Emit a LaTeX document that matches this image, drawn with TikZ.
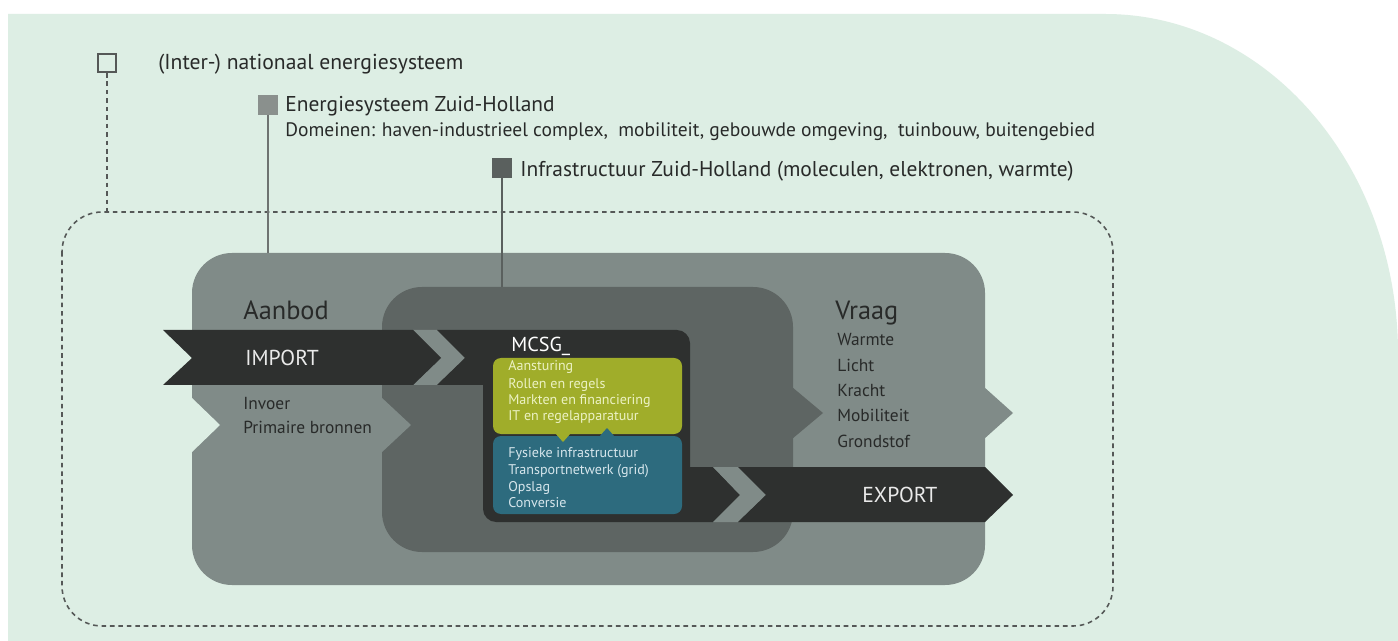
\documentclass[tikz,border=0pt]{standalone}
\usepackage{fontspec}
\setmainfont{PT Sans}

\definecolor{bgmint}{RGB}{221,238,228}
\definecolor{outergray}{RGB}{128,139,136}
\definecolor{innergray}{RGB}{94,101,99}
\definecolor{bandblack}{RGB}{46,48,47}
\definecolor{sturgreen}{RGB}{160,173,42}
\definecolor{fysblue}{RGB}{45,107,126}
\definecolor{txtdark}{RGB}{40,42,41}
\definecolor{sqmid}{RGB}{138,144,141}
\definecolor{sqdark}{RGB}{90,96,94}
\definecolor{dashgray}{RGB}{85,88,87}
\definecolor{greentxt}{RGB}{236,242,196}
\definecolor{bluetxt}{RGB}{214,230,236}

\begin{document}
\begin{tikzpicture}[x=0.02cm, y=-0.02cm,
    txt/.style={anchor=base west, inner sep=0pt, text=txtdark},
    head/.style={txt, font=\fontsize{15}{18}\selectfont},
    item/.style={txt, font=\fontsize{9.9}{12}\selectfont},
    band/.style={txt, text=white!90!bandblack, font=\fontsize{12.3}{14}\selectfont},
    sturitem/.style={txt, text=greentxt, font=\fontsize{8}{9}\selectfont},
    fysitem/.style={txt, text=bluetxt, font=\fontsize{8}{9}\selectfont},
    sqopen/.style={draw=dashgray, line width=1.2pt, fill=none,
        minimum size=0.36cm, inner sep=0pt},
    sqfill/.style={draw=none, minimum size=0.4cm, inner sep=0pt},
    dashline/.style={draw=dashgray, line width=0.9pt,
        dash pattern=on 2.6pt off 2.2pt},
    stem/.style={line width=1.1pt}
]
    % background
    \fill[white] (0,0) rectangle (1398,641);
    \useasboundingbox (0,0) rectangle (1398,641);
    \fill[bgmint] (8,14) -- (1105,14) .. controls (1267,14) and (1398,166)
        .. (1398,354) -- (1398,641) -- (8,641) -- cycle;

    % system border
    \draw[dashline, rounded corners=0.8cm] (62,212) rectangle (1113,626);

    % energiesysteem Zuid-Holland
    \fill[outergray, rounded corners=0.8cm] (192,253) rectangle (985,585);
    \fill[outergray] (984,387) -- (1013,413) -- (984,439) -- cycle;
    \fill[bgmint] (191,397) -- (220,425) -- (191,453) -- cycle;

    % infrastructuur
    \fill[innergray, rounded corners=0.8cm] (382,287) rectangle (793,552);
    \fill[innergray] (792,387) -- (823,413) -- (792,439) -- cycle;
    \fill[outergray] (381,397) -- (411,425) -- (381,453) -- cycle;

    % import band
    \fill[outergray] (413,330) -- (437,330) -- (465,358) -- (437,385)
        -- (413,385) -- (441,358) -- cycle;
    \fill[bandblack] (163,330) -- (413,330) -- (441,358) -- (413,385)
        -- (163,385) -- (192,358) -- cycle;

    % MCSG block
    \fill[bandblack] (437,330) -- (677,330) .. controls (684,330) and (690,336)
        .. (690,343) -- (690,467) -- (713,467) -- (740,495) -- (713,522)
        -- (496,522) .. controls (489,522) and (483,516) .. (483,509)
        -- (483,385) -- (437,385) -- (465,358) -- cycle;

    % export band
    \fill[outergray] (713,467) -- (738,467) -- (766,495) -- (738,522)
        -- (713,522) -- (740,495) -- cycle;
    \fill[bandblack] (738,467) -- (985,467) -- (1013,495) -- (985,522)
        -- (738,522) -- (766,495) -- cycle;

    % sturing en fysiek
    \fill[sturgreen, rounded corners=0.16cm] (493,358) rectangle (682,434);
    \fill[fysblue, rounded corners=0.16cm] (493,436) rectangle (682,514);
    \fill[sturgreen] (555,433) -- (563,442) -- (571,433) -- cycle;
    \fill[fysblue] (599,437) -- (607,428) -- (615,437) -- cycle;

    % legend
    \node[sqopen] (natsq) at (107,63) {};
    \node[sqfill, fill=sqmid] (zhsq) at (268,105) {};
    \node[sqfill, fill=sqdark] (infrasq) at (502,168) {};
    \coordinate (dashtop) at (107,212);
    \coordinate (zhtop) at (268,253);
    \coordinate (infratop) at (502,287);
    \draw[dashline] (natsq.south) -- (dashtop);
    \draw[stem, draw=sqmid!80!black] (zhsq.south) -- (zhtop);
    \draw[stem, draw=sqdark] (infrasq.south) -- (infratop);

    \node[txt, font=\fontsize{12.3}{14}\selectfont] (natlabel) at (158,70)
        {(Inter-) nationaal energiesysteem};
    \node[txt, font=\fontsize{12.2}{14}\selectfont] (zhlabel) at (285,112)
        {Energiesysteem Zuid-Holland};
    \node[txt, font=\fontsize{11.1}{13}\selectfont] (domlabel) at (285,137)
        {Domeinen: haven-industrieel complex,\ \ mobiliteit, gebouwde omgeving,\ \ tuinbouw, buitengebied};
    \node[txt, font=\fontsize{12.2}{14}\selectfont] (infralabel) at (520,177)
        {Infrastructuur Zuid-Holland (moleculen, elektronen, warmte)};

    % aanbod
    \node[head] (aanbod) at (243,320) {Aanbod};
    \node[band] (import) at (245,366) {IMPORT};
    \node[item] (invoer) at (243,409) {Invoer};
    \node[item] (primair) at (243,433) {Primaire bronnen};

    % vraag
    \node[head] (vraag) at (835,320) {Vraag};
    \node[item] (warmte) at (837,346) {Warmte};
    \node[item] (licht) at (837,372) {Licht};
    \node[item] (kracht) at (837,397) {Kracht};
    \node[item] (mobiliteit) at (837,421) {Mobiliteit};
    \node[item] (grondstof) at (837,447) {Grondstof};
    \node[band] (export) at (862,502) {EXPORT};

    % MCSG
    \node[txt, text=white, font=\fontsize{11.5}{13}\selectfont] (mcsg) at (511,352) {MCSG\_};
    \node[sturitem] (aanst) at (508,371) {Aansturing};
    \node[sturitem] (rollen) at (508,388) {Rollen en regels};
    \node[sturitem] (markten) at (508,404) {Markten en financiering};
    \node[sturitem] (itregel) at (508,420) {IT en regelapparatuur};
    \node[fysitem] (fysiek) at (508,457) {Fysieke infrastructuur};
    \node[fysitem] (transport) at (508,474) {Transportnetwerk (grid)};
    \node[fysitem] (opslag) at (508,491) {Opslag};
    \node[fysitem] (conversie) at (508,507) {Conversie};
\end{tikzpicture}
\end{document}
